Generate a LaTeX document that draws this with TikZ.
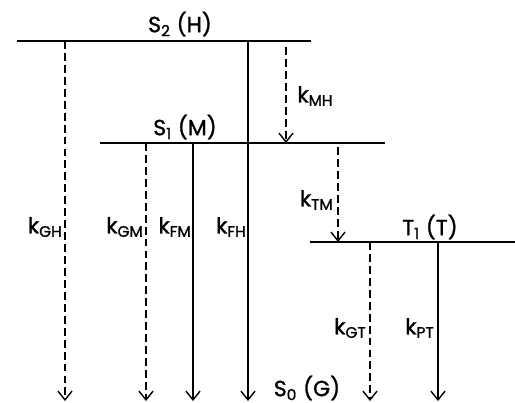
\documentclass[tikz,border=0pt]{standalone}
\usepackage{fontspec}
\setmainfont{Poppins}[FakeBold=1.2]
\usetikzlibrary{arrows.meta}

\newcommand{\krate}[1]{k\textsubscript{#1}}

\begin{document}
\begin{tikzpicture}[x=0.02cm, y=-0.02cm,
    level/.style={line width=0.8pt},
    radiative/.style={line width=0.7pt, -{Straight Barb[length=5pt, width=8pt, line width=0.8pt]}},
    nonrad/.style={radiative, dash pattern=on 4.5pt off 2.3pt},
    lbl/.style={font=\fontsize{12.5}{15}\selectfont, inner sep=0pt}]

    \useasboundingbox (0,0) rectangle (515,403);

    % Energy levels
    \coordinate (S2-l) at (17,41);   \coordinate (S2-r) at (311,41);
    \coordinate (S1-l) at (100,143); \coordinate (S1-r) at (385,143);
    \coordinate (T1-l) at (310,242); \coordinate (T1-r) at (515,242);
    \draw[level] (S2-l) -- (S2-r);
    \draw[level] (S1-l) -- (S1-r);
    \draw[level] (T1-l) -- (T1-r);

    % State labels
    \node[lbl] (S2) at (180,24) {S\textsubscript{2} (H)};
    \node[lbl] (S1) at (185,127) {S\textsubscript{1} (M)};
    \node[lbl] (T1) at (430,227) {T\textsubscript{1} (T)};
    \node[lbl] (S0) at (307,388) {S\textsubscript{0} (G)};

    % Decay paths
    \foreach \name/\x/\ya/\yb/\kind in {GH/65/41/401/nonrad, GM/146/143/401/nonrad,
        FM/193/143/401/radiative, FH/248/41/401/radiative, MH/286/47/143/nonrad,
        TM/338/147/242/nonrad, GT/370/242/401/nonrad, PT/438/242/401/radiative} {
      \coordinate (\name-a) at (\x,\ya);
      \coordinate (\name-b) at (\x,\yb);
      \draw[\kind] (\name-a) -- (\name-b);
    }

    % Rate constants
    \node[lbl, anchor=east] (kGH) at (63,227) {\krate{GH}};
    \node[lbl, anchor=east] (kGM) at (144,227) {\krate{GM}};
    \node[lbl, anchor=east] (kFM) at (192,227) {\krate{FM}};
    \node[lbl, anchor=east] (kFH) at (247,227) {\krate{FH}};
    \node[lbl, anchor=west] (kMH) at (297,96) {\krate{MH}};
    \node[lbl, anchor=east] (kTM) at (334,200) {\krate{TM}};
    \node[lbl, anchor=east] (kGT) at (367,328) {\krate{GT}};
    \node[lbl, anchor=east] (kPT) at (435,328) {\krate{PT}};

\end{tikzpicture}
\end{document}
